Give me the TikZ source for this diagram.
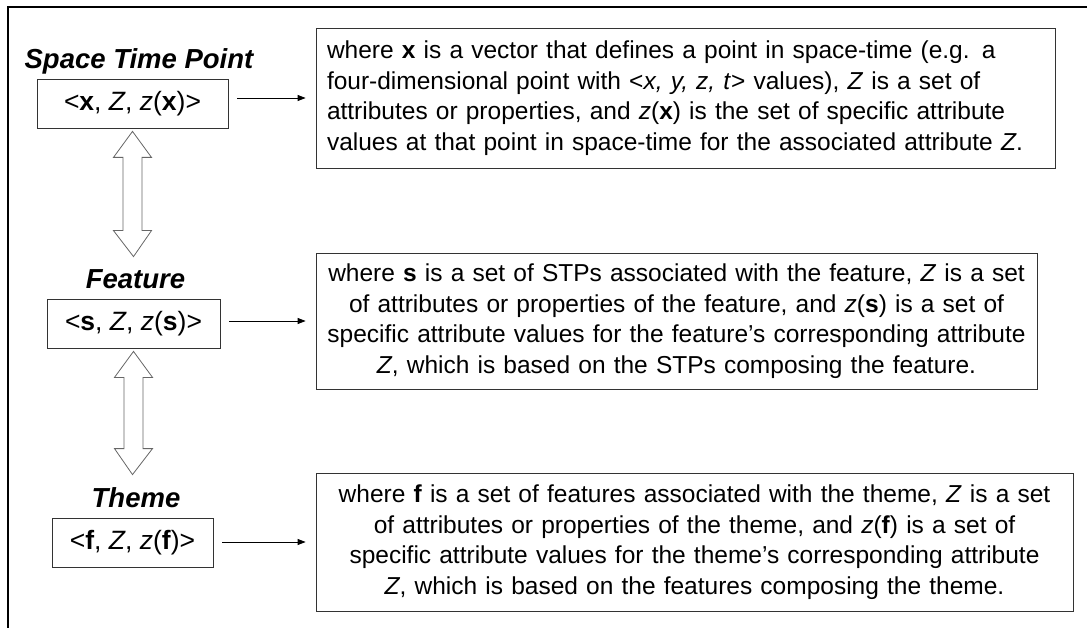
\documentclass[tikz,border=0pt]{standalone}
\usepackage{fontspec}
\setmainfont{Liberation Sans}
\usetikzlibrary{arrows.meta,calc}

\begin{document}
\begin{tikzpicture}[x=1pt,y=-1pt,
    every node/.style={font=\fontsize{24.5}{30.5}\selectfont},
    title/.style={font=\fontsize{27.5}{30}\selectfont\bfseries\itshape},
    tuple/.style={draw=black!80, line width=0.8pt, minimum height=49pt, inner sep=0pt, font=\fontsize{26.5}{30}\selectfont},
    desc/.style={draw=black!80, line width=0.8pt, inner xsep=11pt, inner ysep=0pt},
    hollow/.style={draw=black!60, line width=0.8pt, fill=white},
    link/.style={-{Triangle[length=8pt,width=6pt]}, line width=0.8pt, shorten <=9pt, shorten >=10pt}]
      \useasboundingbox (0,0) rectangle (1087,628);
      \draw[line width=2pt] (8,628) -- (8,7) -- (1087,7);
      % left column
      \node[title] (stpT) at (139,61) {Space Time Point};
      \node[tuple, minimum width=191pt] (stp) at (132.5,103.5) {<\textbf{x}, \textit{Z}, \textit{z}(\textbf{x})>};
      \node[title] (featT) at (135.5,279) {Feature};
      \node[tuple, minimum width=173pt] (feat) at (133.5,323.5) {<\textbf{s}, \textit{Z}, \textit{z}(\textbf{s})>};
      \node[title] (themeT) at (136,498) {Theme};
      \node[tuple, minimum width=161pt] (theme) at (132.5,542.5) {<\textbf{f}, \textit{Z}, \textit{z}(\textbf{f})>};
      % right column
      \node[desc, minimum width=739pt, minimum height=140pt, text width=717pt, align=left] (stpD) at (685.5,98) {%
        where \textbf{x} is a vector that defines a point in space-time (e.g. a\\
        four-dimensional point with <\textit{x, y, z, t}> values), \textit{Z} is a set of\\
        attributes or properties, and \textit{z}(\textbf{x}) is the set of specific attribute\\
        values at that point in space-time for the associated attribute \textit{Z}.};
      \node[desc, minimum width=721pt, minimum height=136pt, text width=699pt, align=center] (featD) at (676.5,321) {%
        where \textbf{s} is a set of STPs associated with the feature, \textit{Z} is a set\\
        of attributes or properties of the feature, and \textit{z}(\textbf{s}) is a set of\\
        specific attribute values for the feature’s corresponding attribute\\
        \textit{Z}, which is based on the STPs composing the feature.};
      \node[desc, minimum width=757pt, minimum height=138pt, text width=735pt, align=center] (themeD) at (694.5,542) {%
        where \textbf{f} is a set of features associated with the theme, \textit{Z} is a set\\
        of attributes or properties of the theme, and \textit{z}(\textbf{f}) is a set of\\
        specific attribute values for the theme’s corresponding attribute\\
        \textit{Z}, which is based on the features composing the theme.};
      % connectors
      \draw[link] (stpD.west -| stp.east) -- (stpD.west);
      \draw[link] (featD.west -| feat.east) -- (featD.west);
      \draw[link] (themeD.west -| theme.east) -- (themeD.west);
      \draw[hollow] let \p1=($(stp.south)+(0,3)$), \p2=($(feat.north)+(0,-42)$) in
        (\p1) -- (\x1-19pt,\y1-26pt) -- (\x1-9.5pt,\y1-26pt) -- (\x1-9.5pt,\y2+26pt) -- (\x1-19pt,\y2+26pt)
        -- (\p2) -- (\x1+19pt,\y2+26pt) -- (\x1+9.5pt,\y2+26pt) -- (\x1+9.5pt,\y1-26pt) -- (\x1+19pt,\y1-26pt) -- cycle;
      \draw[hollow] let \p1=($(feat.south)+(0,3)$), \p2=($(theme.north)+(0,-43)$) in
        (\p1) -- (\x1-19pt,\y1-26pt) -- (\x1-9.5pt,\y1-26pt) -- (\x1-9.5pt,\y2+26pt) -- (\x1-19pt,\y2+26pt)
        -- (\p2) -- (\x1+19pt,\y2+26pt) -- (\x1+9.5pt,\y2+26pt) -- (\x1+9.5pt,\y1-26pt) -- (\x1+19pt,\y1-26pt) -- cycle;
    \end{tikzpicture}
\end{document}
